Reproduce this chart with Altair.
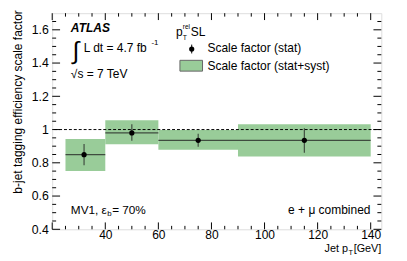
import altair as alt
import pandas as pd

# ---- data ----
bin_lo = [25, 40, 60, 90]
bin_hi = [40, 60, 90, 140]
x_center = [32, 50, 75, 115]
sf = [0.849, 0.980, 0.935, 0.935]
stat_lo = [0.785, 0.933, 0.897, 0.860]
stat_hi = [0.913, 1.032, 0.975, 1.008]
tot_lo = [0.751, 0.911, 0.878, 0.838]
tot_hi = [0.943, 1.056, 0.998, 1.032]

x_major = [20, 40, 60, 80, 100, 120, 140]
x_minor = [25, 30, 35, 45, 50, 55, 65, 70, 75, 85, 90, 95, 105, 110, 115,
           125, 130, 135]
x_labels = [40, 60, 80, 100, 120, 140]
y_major = [0.4, 0.6, 0.8, 1.0, 1.2, 1.4, 1.6]
y_minor = [0.45, 0.5, 0.55, 0.65, 0.7, 0.75, 0.85, 0.9, 0.95, 1.05, 1.1,
           1.15, 1.25, 1.3, 1.35, 1.45, 1.5, 1.55, 1.65]

W, H = 335, 220
FONT = "Liberation Sans"
GREEN = "#99cc99"
FS = 12.2

df = pd.DataFrame({"lo": bin_lo, "hi": bin_hi, "xc": x_center, "sf": sf,
                   "slo": stat_lo, "shi": stat_hi, "tlo": tot_lo, "thi": tot_hi})

xs = alt.Scale(domain=[20, 144], nice=False, zero=False)
ys = alt.Scale(domain=[0.4, 1.7], nice=False, zero=False)
xaxis = alt.Axis(values=x_labels, ticks=False, domain=False, grid=False,
                 labelFont=FONT, labelFontSize=12.2, labelColor="black",
                 labelPadding=-1, title=None)
yaxis = alt.Axis(values=y_major, ticks=False, domain=False, grid=False,
                 labelFont=FONT, labelFontSize=12.5, labelColor="black",
                 labelPadding=4, format=".1~f", title=None)


def X(f):
    return alt.X(f, type="quantitative", scale=xs, axis=xaxis, title=None)


def Y(f):
    return alt.Y(f, type="quantitative", scale=ys, axis=yaxis, title=None)


base = alt.Chart(df)

boxes = base.mark_rect(color=GREEN).encode(x=X("lo"), x2="hi", y=Y("tlo"), y2="thi")
unity = alt.Chart(pd.DataFrame({"u": [1.0]})).mark_rule(
    color="black", strokeDash=[3, 2], strokeWidth=1).encode(y=Y("u"))
herr = base.mark_rule(color="#222222", strokeWidth=1.2, opacity=0.75).encode(
    x=X("lo"), x2="hi", y=Y("sf"))
verr = base.mark_rule(color="#222222", strokeWidth=1.2, opacity=0.75).encode(
    x=X("xc"), y=Y("slo"), y2="shi")
pts = base.mark_circle(color="black", size=28, opacity=1).encode(x=X("xc"), y=Y("sf"))

dxM = pd.DataFrame({"v": x_major})
dxm = pd.DataFrame({"v": x_minor})
dyM = pd.DataFrame({"v": y_major})
dym = pd.DataFrame({"v": y_minor})


def xt(d, y0, y1):
    return alt.Chart(d).mark_rule(color="black", strokeWidth=1).encode(
        x=X("v"), y=alt.value(y0), y2=alt.value(y1))


def yt(d, x0, x1):
    return alt.Chart(d).mark_rule(color="black", strokeWidth=1).encode(
        y=Y("v"), x=alt.value(x0), x2=alt.value(x1))


ticks = [
    xt(dxM, H, H - 7), xt(dxm, H, H - 3.5), xt(dxM, 0, 7), xt(dxm, 0, 3.5),
    yt(dyM, 0, 8), yt(dym, 0, 4), yt(dyM, W, W - 8), yt(dym, W, W - 4),
]

one = pd.DataFrame({"a": [0]})


def txt(s, x, y, size=FS, align="left", **kw):
    return alt.Chart(one).mark_text(text=s, font=FONT, fontSize=size, align=align,
                                    baseline="middle", color="black", **kw).encode(
        x=alt.value(x), y=alt.value(y))


texts = [
    txt("ATLAS", 19, 15, fontWeight="bold", fontStyle="italic"),
    txt("\u222b", 21, 39, size=25),
    txt("L dt = 4.7 fb", 32, 36),
    txt("-1", 101, 30, size=8),
    txt("\u221as = 7 TeV", 19, 62),
    txt("p", 126, 19),
    txt("rel", 133, 14, size=6.5),
    txt("T", 133, 25, size=7),
    txt("SL", 141, 19),
    txt("Scale factor (stat)", 158, 36),
    txt("Scale factor (stat+syst)", 158, 54),
    txt("MV1, \u03b5", 19, 200, size=12),
    txt("b", 56, 204, size=8),
    txt("= 70%", 61, 200, size=12),
    txt("e + \u03bc combined", 324, 200, align="right"),
    txt("[GeV]", 335, 240, size=11, align="right"),
    txt("T", 301.5, 244, size=7.5),
    txt("Jet p", 301, 240, size=11, align="right"),
    txt("b-jet tagging efficiency scale factor", -35, -3, size=FS,
        align="right", angle=270),
]

leg_box = alt.Chart(one).mark_rect(color=GREEN, stroke="#666666", strokeWidth=1).encode(
    x=alt.value(130), x2=alt.value(153), y=alt.value(48), y2=alt.value(59))
leg_err = alt.Chart(one).mark_rule(color="black", strokeWidth=1).encode(
    x=alt.value(142), y=alt.value(32), y2=alt.value(41))
leg_pt = alt.Chart(one).mark_circle(color="black", size=28, opacity=1).encode(
    x=alt.value(142), y=alt.value(36.5))

chart = alt.layer(
    boxes, unity, herr, verr, pts, *ticks, leg_box, leg_err, leg_pt, *texts
).properties(
    width=W, height=H,
    autosize=alt.AutoSizeParams(type="none"),
    padding={"left": 45, "top": 3, "right": 18, "bottom": 30},
).configure_view(stroke="black", strokeWidth=1).configure(background="white")

chart.save("out.html", embed_options={"renderer": "svg", "actions": False})
